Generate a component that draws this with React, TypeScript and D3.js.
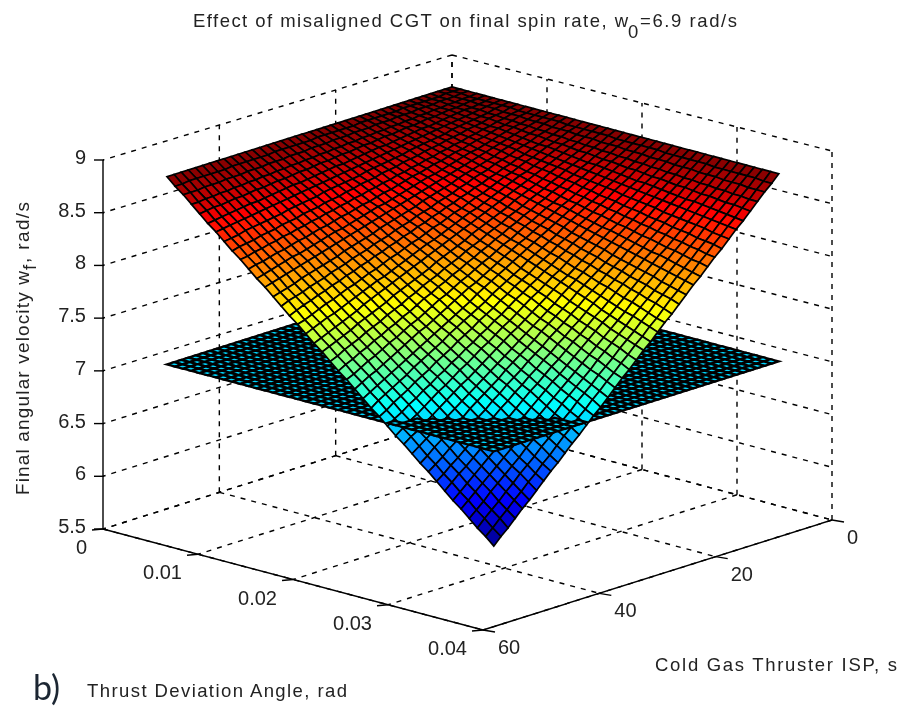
import React, { useEffect, useRef } from 'react';
import * as d3 from 'd3';

const thetaTicks = [0, 0.01, 0.02, 0.03, 0.04];
const thetaTickLabels = ['0', '0.01', '0.02', '0.03', '0.04'];
const ispTicks = [0, 20, 40, 60];
const zTicks = [5.5, 6, 6.5, 7, 7.5, 8, 8.5, 9];
const zTickLabels = ['5.5', '6', '6.5', '7', '7.5', '8', '8.5', '9'];

const thetaGrid = [0,.00086,.00172,.00258,.00344,.0043,.00516,.00602,.00688,.00774,.0086,.00946,.01032,.01118,.01204,.0129,.01376,.01462,.01548,.01634,.0172,.01806,.01892,.01978,.02064,.0215,.02236,.02322,.02408,.02494,.0258,.02666,.02752,.02838,.02924,.0301,.03096,.03182,.03268,.03354,.0344];
const ispGrid = [0,1.225,2.45,3.675,4.9,6.125,7.35,8.575,9.8,11.025,12.25,13.475,14.7,15.925,17.15,18.375,19.6,20.825,22.05,23.275,24.5,25.725,26.95,28.175,29.4,30.625,31.85,33.075,34.3,35.525,36.75,37.975,39.2,40.425,41.65,42.875,44.1,45.325,46.55,47.775,49];

// flat reference plane, no thrust deviation effect
const planeSpin = 6.87;

// final spin rate in hundredths of rad/s, one row per thetaGrid value, one column per ispGrid value
const finalSpin = [
[865,865,865,865,865,865,865,865,865,865,865,865,865,865,865,865,865,865,865,865,865,865,865,865,865,865,865,865,865,865,865,865,865,865,865,865,865,865,865,865,865],
[865,865,865,864,864,864,864,864,864,863,863,863,863,863,863,862,862,862,862,862,862,861,861,861,861,861,861,860,860,860,860,860,860,859,859,859,859,859,859,858,858],
[865,865,864,864,864,863,863,863,862,862,862,861,861,861,860,860,860,859,859,859,858,858,858,857,857,857,856,856,856,855,855,855,854,854,854,853,853,853,852,852,852],
[865,864,864,863,863,862,862,861,861,860,860,859,859,858,858,857,857,856,856,855,855,854,854,853,853,852,852,851,851,850,850,849,849,848,848,847,847,846,846,845,845],
[865,864,864,863,862,862,861,860,860,859,858,858,857,856,856,855,854,854,853,852,852,851,850,850,849,848,848,847,846,846,845,844,844,843,842,842,841,840,840,839,838],
[865,864,863,862,862,861,860,859,858,857,857,856,855,854,853,852,852,851,850,849,848,847,847,846,845,844,843,842,842,841,840,839,838,837,837,836,835,834,833,832,831],
[865,864,863,862,861,860,859,858,857,856,855,854,853,852,851,850,849,848,847,846,845,844,843,842,841,840,839,838,837,836,835,834,833,832,831,830,829,828,827,826,825],
[865,864,863,861,860,859,858,857,856,854,853,852,851,850,849,847,846,845,844,843,842,840,839,838,837,836,835,833,832,831,830,829,827,826,825,824,823,822,820,819,818],
[865,864,862,861,860,858,857,856,854,853,852,850,849,848,846,845,844,842,841,840,838,837,836,834,833,831,830,829,827,826,825,823,822,821,819,818,817,815,814,813,811],
[865,863,862,860,859,857,856,854,853,851,850,848,847,845,844,842,841,839,838,836,835,833,832,830,829,827,826,824,823,821,820,818,817,815,814,812,811,809,808,806,805],
[865,863,862,860,858,857,855,853,852,850,848,847,845,843,842,840,838,837,835,833,831,830,828,826,825,823,821,820,818,816,815,813,811,810,808,806,805,803,801,800,798],
[865,863,861,859,858,856,854,852,850,848,847,845,843,841,839,837,836,834,832,830,828,826,824,823,821,819,817,815,813,812,810,808,806,804,802,801,799,797,795,793,791],
[865,863,861,859,857,855,853,851,849,847,845,843,841,839,837,835,833,831,829,827,825,823,821,819,817,815,813,811,809,807,805,803,801,799,797,795,793,791,789,787,785],
[865,863,861,858,856,854,852,850,848,845,843,841,839,837,835,832,830,828,826,824,821,819,817,815,813,811,808,806,804,802,800,797,795,793,791,789,787,784,782,780,778],
[865,863,860,858,856,853,851,849,846,844,842,839,837,835,832,830,827,825,823,820,818,816,813,811,809,806,804,802,799,797,795,792,790,788,785,783,781,778,776,774,771],
[865,862,860,857,855,852,850,847,845,842,840,837,835,832,830,827,825,822,820,817,815,812,810,807,805,802,800,797,795,792,790,787,785,782,780,777,775,772,770,767,764],
[865,862,860,857,854,852,849,846,844,841,838,836,833,830,827,825,822,819,817,814,811,809,806,803,801,798,795,793,790,787,785,782,779,777,774,771,769,766,763,760,758],
[865,862,859,856,854,851,848,845,842,839,837,834,831,828,825,822,819,817,814,811,808,805,802,800,797,794,791,788,785,782,780,777,774,771,768,765,762,760,757,754,751],
[865,862,859,856,853,850,847,844,841,838,835,832,829,826,823,820,817,814,811,808,805,802,799,796,793,790,787,784,781,778,775,772,769,766,762,759,756,753,750,747,744],
[865,862,859,855,852,849,846,843,840,836,833,830,827,824,820,817,814,811,808,805,801,798,795,792,789,785,782,779,776,773,770,766,763,760,757,754,750,747,744,741,738],
[865,862,858,855,852,848,845,842,838,835,831,828,825,821,818,815,811,808,805,801,798,795,791,788,785,781,778,775,771,768,764,761,758,754,751,748,744,741,738,734,731],
[865,861,858,854,851,847,844,840,837,833,830,826,823,819,816,812,809,805,802,798,795,791,788,784,781,777,774,770,767,763,759,756,752,749,745,742,738,735,731,728,724],
[865,861,858,854,850,847,843,839,836,832,828,824,821,817,813,810,806,802,799,795,791,788,784,780,777,773,769,766,762,758,754,751,747,743,740,736,732,729,725,721,718],
[865,861,857,853,850,846,842,838,834,830,826,823,819,815,811,807,803,800,796,792,788,784,780,776,773,769,765,761,757,753,749,746,742,738,734,730,726,722,719,715,711],
[865,861,857,853,849,845,841,837,833,829,825,821,817,813,809,805,801,797,793,789,785,781,777,773,769,764,760,756,752,748,744,740,736,732,728,724,720,716,712,708,704],
[865,861,857,852,848,844,840,836,831,827,823,819,815,811,806,802,798,794,790,785,781,777,773,769,764,760,756,752,748,744,739,735,731,727,723,718,714,710,706,702,697],
[865,861,856,852,848,843,839,835,830,826,821,817,813,808,804,800,795,791,787,782,778,774,769,765,760,756,752,747,743,739,734,730,726,721,717,713,708,704,700,695,691],
[865,860,856,851,847,842,838,833,829,824,820,815,811,806,802,797,793,788,784,779,775,770,766,761,756,752,747,743,738,734,729,725,720,716,711,707,702,698,693,689,684],
[865,860,856,851,846,842,837,832,827,823,818,813,809,804,799,795,790,785,781,776,771,767,762,757,752,748,743,738,734,729,724,720,715,710,706,701,696,691,687,682,677],
[865,860,855,850,846,841,836,831,826,821,816,812,807,802,797,792,787,782,778,773,768,763,758,753,748,744,739,734,729,724,719,714,710,705,700,695,690,685,680,676,671],
[865,860,855,850,845,840,835,830,825,820,815,810,805,800,795,790,785,780,775,770,764,759,754,749,744,739,734,729,724,719,714,709,704,699,694,689,684,679,674,669,664],
[865,860,855,849,844,839,834,829,823,818,813,808,803,797,792,787,782,777,772,766,761,756,751,746,740,735,730,725,720,714,709,704,699,694,688,683,678,673,668,662,657],
[865,860,854,849,844,838,833,827,822,817,811,806,801,795,790,785,779,774,769,763,758,752,747,742,736,731,726,720,715,710,704,699,693,688,683,677,672,667,661,656,651],
[865,859,854,848,843,837,832,826,821,815,810,804,799,793,788,782,777,771,766,760,754,749,743,738,732,727,721,716,710,705,699,694,688,683,677,672,666,660,655,649,644],
[865,859,854,848,842,837,831,825,819,814,808,802,797,791,785,780,774,768,762,757,751,745,740,734,728,723,717,711,706,700,694,688,683,677,671,666,660,654,649,643,637],
[865,859,853,847,842,836,830,824,818,812,806,801,795,789,783,777,771,765,759,754,748,742,736,730,724,718,713,707,701,695,689,683,677,672,666,660,654,648,642,636,630],
[865,859,853,847,841,835,829,823,817,811,805,799,793,787,781,775,769,762,756,750,744,738,732,726,720,714,708,702,696,690,684,678,672,666,660,654,648,642,636,630,624],
[865,859,853,846,840,834,828,822,815,809,803,797,791,784,778,772,766,760,753,747,741,735,729,722,716,710,704,698,691,685,679,673,667,660,654,648,642,636,629,623,617],
[865,859,852,846,840,833,827,820,814,808,801,795,789,782,776,770,763,757,750,744,738,731,725,719,712,706,700,693,687,680,674,668,661,655,649,642,636,629,623,617,610],
[865,858,852,845,839,832,826,819,813,806,800,793,787,780,774,767,760,754,747,741,734,728,721,715,708,702,695,689,682,676,669,662,656,649,643,636,630,623,617,610,604],
[865,858,852,845,838,831,825,818,811,805,798,791,785,778,771,764,758,751,744,738,731,724,718,711,704,697,691,684,677,671,664,657,651,644,637,630,624,617,610,604,597],
];

const WIDTH = 902;
const HEIGHT = 708;
const FONT = '"Liberation Sans", Arial, sans-serif';

// screen position of the back floor corner and how each axis runs from there
const ORIGIN = [452, 419];
const thetaX = d3.scaleLinear().domain([0, 0.04]).range([0, 380]);
const thetaY = d3.scaleLinear().domain([0, 0.04]).range([0, 101]);
const ispX = d3.scaleLinear().domain([0, 60]).range([0, -349]);
const ispY = d3.scaleLinear().domain([0, 60]).range([0, 110]);
const zY = d3.scaleLinear().domain([5.5, 9]).range([0, -369]);

function project(theta: number, isp: number, z: number): [number, number] {
  return [
    ORIGIN[0] + thetaX(theta) + ispX(isp),
    ORIGIN[1] + thetaY(theta) + ispY(isp) + zY(z),
  ];
}

// the box itself is a bit shorter at the back corner (slight perspective)
function projectBox(theta: number, isp: number, z: number): [number, number] {
  const shrink = 1 - (5 / 369) * (1 - theta / 0.04) * (1 - isp / 60);
  const p = project(theta, isp, z);
  return [p[0], p[1] - zY(z) + zY(z) * shrink];
}

// larger = closer to the viewer
function depth(theta: number, isp: number, z: number) {
  return (349 * theta) / 0.04 + (380 * isp) / 60 + (209 * (z - 5.5)) / 3.5;
}

const jet = d3
  .scaleLinear<string>()
  .domain([0, 0.125, 0.375, 0.625, 0.875, 1])
  .range(['#00008f', '#0000ff', '#00ffff', '#ffff00', '#ff0000', '#800000'])
  .clamp(true);

export default function App() {
  const ref = useRef<SVGSVGElement>(null);

  useEffect(() => {
    const svg = d3.select(ref.current);
    svg.selectAll('*').remove();

    svg.append('defs').append('filter').attr('id', 'soft')
      .attr('filterUnits', 'userSpaceOnUse')
      .attr('x', 0).attr('y', 0)
      .attr('width', WIDTH).attr('height', HEIGHT)
      .append('feGaussianBlur').attr('stdDeviation', 0.45);

    const g = svg.append('g').attr('filter', 'url(#soft)');
    const line = d3.line();
    const closed = d3.line().curve(d3.curveLinearClosed);

    const seg = (a: [number, number, number], b: [number, number, number]) =>
      line([projectBox(a[0], a[1], a[2]), projectBox(b[0], b[1], b[2])]) as string;

    // dashed grid on the floor and the two back walls
    const dashed: string[] = [];
    zTicks.forEach((z) => {
      dashed.push(seg([0, 0, z], [0, 60, z]));
      dashed.push(seg([0, 0, z], [0.04, 0, z]));
    });
    ispTicks.forEach((isp) => {
      if (isp < 60) dashed.push(seg([0, isp, 5.5], [0, isp, 9]));
      dashed.push(seg([0, isp, 5.5], [0.04, isp, 5.5]));
    });
    thetaTicks.forEach((t) => {
      dashed.push(seg([t, 0, 5.5], [t, 0, 9]));
      dashed.push(seg([t, 0, 5.5], [t, 60, 5.5]));
    });
    g.append('g').selectAll('path').data(dashed).enter().append('path')
      .attr('d', (d) => d)
      .attr('fill', 'none')
      .attr('stroke', '#000')
      .attr('stroke-width', 1.4)
      .attr('stroke-dasharray', '5 6');

    // solid axes and ticks
    const solid: string[] = [
      seg([0, 60, 5.5], [0, 60, 9]),
      seg([0, 60, 5.5], [0.04, 60, 5.5]),
      seg([0.04, 0, 5.5], [0.04, 60, 5.5]),
    ];
    zTicks.forEach((z) => {
      const p = projectBox(0, 60, z);
      solid.push(line([[p[0] - 9, p[1]], [p[0] + 1, p[1]]]) as string);
    });
    thetaTicks.forEach((t) => {
      const p = projectBox(t, 60, 5.5);
      solid.push(line([p, [p[0] - 11, p[1] + 1]]) as string);
    });
    ispTicks.forEach((isp) => {
      const p = projectBox(0.04, isp, 5.5);
      solid.push(line([p, [p[0] + 12, p[1] + 2]]) as string);
    });
    g.append('g').selectAll('path').data(solid).enter().append('path')
      .attr('d', (d) => d)
      .attr('fill', 'none')
      .attr('stroke', '#000')
      .attr('stroke-width', 1.4);

    // mesh cells of both surfaces, painted back to front
    const allSpins = finalSpin.flat().map((v) => v / 100);
    const color = d3.scaleLinear().domain(d3.extent(allSpins) as [number, number]).range([0, 1]);
    const cells: { d: number; path: string; fill: string; sw: number }[] = [];
    const addCell = (i: number, j: number, sw: number, zAt: (a: number, b: number) => number) => {
      const corners: [number, number][] = [[i, j], [i + 1, j], [i + 1, j + 1], [i, j + 1]];
      const meanZ = d3.mean(corners, (c) => zAt(c[0], c[1])) as number;
      cells.push({
        d: depth((thetaGrid[i] + thetaGrid[i + 1]) / 2, (ispGrid[j] + ispGrid[j + 1]) / 2, meanZ),
        path: closed(corners.map((c) => project(thetaGrid[c[0]], ispGrid[c[1]], zAt(c[0], c[1])))) as string,
        fill: jet(color(meanZ)),
        sw,
      });
    };
    for (let i = 0; i < thetaGrid.length - 1; i++) {
      for (let j = 0; j < ispGrid.length - 1; j++) {
        addCell(i, j, 1.7, (a, b) => finalSpin[a][b] / 100);
        addCell(i, j, 2.3, () => planeSpin);
      }
    }
    cells.sort((a, b) => a.d - b.d);
    g.append('g').selectAll('path').data(cells).enter().append('path')
      .attr('d', (d) => d.path)
      .attr('fill', (d) => d.fill)
      .attr('stroke', '#000')
      .attr('stroke-width', (d) => d.sw);

    // tick labels
    const tickText = g.append('g')
      .attr('font-family', FONT)
      .attr('font-size', 20)
      .attr('fill', '#222');
    zTicks.forEach((z, k) => {
      const p = projectBox(0, 60, z);
      tickText.append('text').attr('x', 86).attr('y', p[1] + 4).attr('text-anchor', 'end').text(zTickLabels[k]);
    });
    thetaTicks.forEach((t, k) => {
      const p = projectBox(t, 60, 5.5);
      tickText.append('text').attr('x', p[0] - 16).attr('y', p[1] + 25).attr('text-anchor', 'end').text(thetaTickLabels[k]);
    });
    ispTicks.forEach((isp) => {
      const p = projectBox(0.04, isp, 5.5);
      tickText.append('text').attr('x', p[0] + 15).attr('y', p[1] + 24).text(String(isp));
    });

    // titles, stretched to the span they take in the picture
    const label = (str: string, x: number, y: number, len: number, size: number, rotate = false) => {
      g.append('text')
        .attr('transform', `translate(${x},${y})${rotate ? ' rotate(-90)' : ''}`)
        .attr('font-family', FONT)
        .attr('font-size', size)
        .attr('fill', '#222')
        .attr('textLength', len)
        .attr('lengthAdjust', 'spacing')
        .text(str);
    };
    label('Effect of misaligned CGT on final spin rate, w', 193, 27, 435, 18.5);
    label('0', 628, 38, 11, 18.5);
    label('=6.9 rad/s', 640, 27, 97, 18.5);
    label('Final angular velocity  w', 29, 495, 224, 19, true);
    label('f', 36, 270, 6, 19, true);
    label(', rad/s', 29, 263, 61, 19, true);
    label('Thrust Deviation Angle, rad', 87, 697, 260, 18.5);
    label('Cold Gas Thruster ISP, s', 655, 671, 242, 18.5);

    g.append('text')
      .attr('x', 33)
      .attr('y', 700)
      .attr('font-family', 'Lato, "Open Sans", sans-serif')
      .attr('font-size', 34)
      .attr('fill', '#1c2733')
      .text('b)');
  }, []);

  return (
    <svg
      ref={ref}
      width={WIDTH}
      height={HEIGHT}
      style={{ position: 'absolute', left: 0, top: 0, display: 'block', background: '#fff' }}
    />
  );
}
